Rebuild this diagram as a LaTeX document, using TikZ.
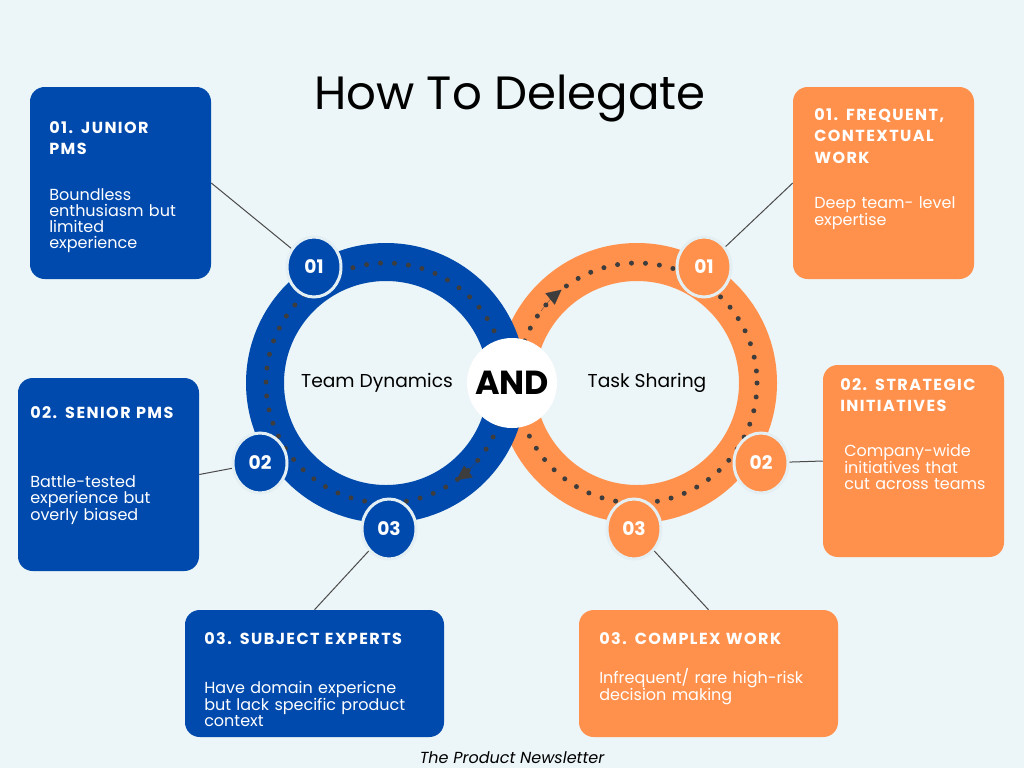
\documentclass[tikz,border=0pt]{standalone}
\usepackage{fontspec}
\setmainfont{Poppins}
\newfontfamily\headfont[LetterSpace=9]{Poppins}
\usetikzlibrary{shapes.geometric}
\usetikzlibrary{arrows.meta}

\definecolor{pmblue}{HTML}{004AAD}
\definecolor{pmorange}{HTML}{FF914D}
\definecolor{pagebg}{HTML}{ECF5F7}
\definecolor{dotgray}{HTML}{3D3D3D}
\definecolor{numedge}{HTML}{E4EFF4}
\definecolor{linkgray}{HTML}{4A4A4A}

\begin{document}
\begin{tikzpicture}[x=0.75pt,y=-0.75pt,
    card/.style={rounded corners=11pt, minimum width=181*0.75pt, minimum height=192*0.75pt, inner sep=0pt},
    widecard/.style={card, minimum width=259*0.75pt, minimum height=127*0.75pt},
    numdot/.style={ellipse, draw=numedge, line width=2.25pt, minimum width=40.5pt, minimum height=45pt,
        inner sep=0pt, text=white, font=\bfseries\fontsize{14}{14}\selectfont},
    cardhead/.style={anchor=base west, inner sep=0pt, text=white, align=left, text width=200pt,
        font=\headfont\bfseries\fontsize{12}{16.2}\selectfont},
    cardbody/.style={anchor=base west, inner sep=0pt, text=white, align=left, text width=200pt,
        font=\fontsize{12}{12}\selectfont},
    loopdots/.style={dotgray, line width=3.75pt, line cap=round, dash pattern=on 0pt off 10.5pt},
    looptip/.style={dotgray, line width=0.2pt, -{Triangle[length=11pt,width=11pt]}},
    link/.style={linkgray, line width=0.75pt},
    ringlabel/.style={font=\fontsize{14}{14}\selectfont}]

    \fill[pagebg] (0,0) rectangle (1024,768);
    \useasboundingbox (0,0) rectangle (1024,768);
    \node[font=\fontsize{35}{35}\selectfont] (title) at (510,99) {How To Delegate};

    \coordinate (bluec) at (386,383);
    \coordinate (orangec) at (637,383);
    \draw[pmorange, line width=28.5pt] (orangec) circle[radius=121];
    \draw[pmblue, line width=28.5pt] (bluec) circle[radius=121];

    \draw[loopdots] (bluec) circle[radius=120];
    \draw[loopdots] (orangec) circle[radius=120];
    \draw[looptip] (bluec) ++(40:120) arc[start angle=40, end angle=54, radius=120];
    \draw[looptip] (orangec) ++(217:120) arc[start angle=217, end angle=231, radius=120];

    \node[circle, fill=white, minimum size=67.5pt, inner sep=0pt,
        font=\bfseries\fontsize{25}{25}\selectfont] (and) at (512,383) {AND};
    \node[ringlabel] (team) at (377,383) {Team Dynamics};
    \node[ringlabel] (task) at (647,383) {Task Sharing};

    % blue side
    \node[card, fill=pmblue] (junior) at (120.5,183) {};
    \node[card, fill=pmblue, minimum height=193*0.75pt] (senior) at (108.5,474.5) {};
    \node[widecard, fill=pmblue] (experts) at (314.5,673.5) {};

    \node[numdot, fill=pmblue] (b1) at (314,267) {01};
    \node[numdot, fill=pmblue] (b2) at (260,463) {02};
    \node[numdot, fill=pmblue] (b3) at (389,529) {03};

    \draw[link] (junior.east) -- (b1);
    \draw[link] (senior.east) -- (b2);
    \draw[link] (experts.north) -- (b3);

    \node[cardhead] (juniorhead) at (49,133) {01. JUNIOR\\PMS};
    \node[cardbody] (juniortext) at (49,200) {Boundless\\enthusiasm but\\limited\\experience};
    \node[cardhead] (seniorhead) at (30,418) {02. SENIOR PMS};
    \node[cardbody] (seniortext) at (30,487) {Battle-tested\\experience but\\overly biased};
    \node[cardhead] (expertshead) at (204,644) {03. SUBJECT EXPERTS};
    \node[cardbody] (expertstext) at (204,693) {Have domain expericne\\but lack specific product\\context};

    % orange side
    \node[card, fill=pmorange] (frequent) at (883.5,183) {};
    \node[card, fill=pmorange] (strategic) at (913.5,461) {};
    \node[widecard, fill=pmorange] (complex) at (708.5,673.5) {};

    \node[numdot, fill=pmorange] (o1) at (704,267) {01};
    \node[numdot, fill=pmorange] (o2) at (761,463) {02};
    \node[numdot, fill=pmorange] (o3) at (634,529) {03};

    \draw[link] (frequent.west) -- (o1);
    \draw[link] (strategic.west) -- (o2);
    \draw[link] (complex.north) -- (o3);

    \node[cardhead] (frequenthead) at (814,120) {01. FREQUENT,\\CONTEXTUAL\\WORK};
    \node[cardbody] (frequenttext) at (814,208) {Deep team- level\\expertise};
    \node[cardhead] (strategichead) at (840,390) {02. STRATEGIC\\INITIATIVES};
    \node[cardbody] (strategictext) at (844,456) {Company-wide\\initiatives that\\cut across teams};
    \node[cardhead] (complexhead) at (599,644) {03. COMPLEX WORK};
    \node[cardbody] (complextext) at (599,683) {Infrequent/ rare high-risk\\decision making};

    \node[anchor=base, inner sep=0pt, font=\itshape\fontsize{12}{12}\selectfont] (credit) at (512,763) {The Product Newsletter};
\end{tikzpicture}
\end{document}
